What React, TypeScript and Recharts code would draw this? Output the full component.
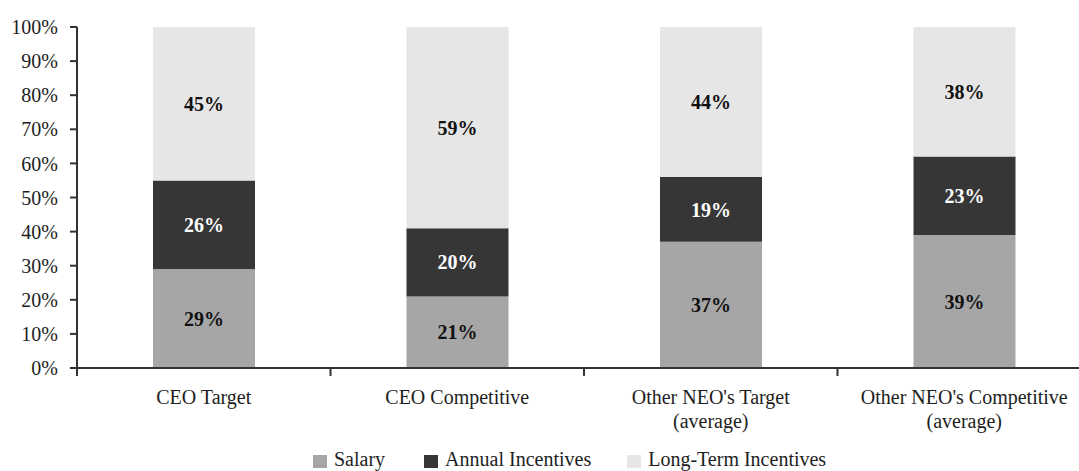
import React from 'react';
import { BarChart, Bar, XAxis, YAxis, Legend, LabelList } from 'recharts';

const categories = ["CEO Target", "CEO Competitive", "Other NEO's Target\n(average)", "Other NEO's Competitive\n(average)"];
const salary = [29, 21, 37, 39];
const annualIncentives = [26, 20, 19, 23];
const longTermIncentives = [45, 59, 44, 38];
const yTicks = [0, 10, 20, 30, 40, 50, 60, 70, 80, 90, 100];
const seriesNames = ['Salary', 'Annual Incentives', 'Long-Term Incentives'];
const seriesColors = ['#a6a6a6', '#363636', '#e6e6e6'];
const labelColors = ['#111111', '#ffffff', '#111111'];

const data = categories.map((c, i) => ({
  name: c,
  salary: salary[i],
  annual: annualIncentives[i],
  lti: longTermIncentives[i],
}));
const keys = ['salary', 'annual', 'lti'];

const FONT = '"Liberation Serif", "Times New Roman", serif';
const AXIS = '#333333';
const TEXT = '#1e1e1e';

const CategoryTick = (props: any) => {
  const { x, y, payload, index, visibleTicksCount, width } = props;
  const bw = Number(width) / visibleTicksCount;
  const lines = String(payload.value).split('\n');
  return (
    <g>
      <line x1={x - bw / 2} x2={x - bw / 2} y1={y} y2={y + 8} stroke={AXIS} strokeWidth={2} />
      {index === visibleTicksCount - 1 && (
        <line x1={x + bw / 2} x2={x + bw / 2} y1={y} y2={y + 8} stroke={AXIS} strokeWidth={2} />
      )}
      <text x={x} y={y} textAnchor="middle" fontFamily={FONT} fontSize={20} fill={TEXT}>
        {lines.map((l, i) => (
          <tspan key={i} x={x} dy={i === 0 ? 36 : 24}>{l}</tspan>
        ))}
      </text>
    </g>
  );
};

const renderLegend = () => (
  <div style={{ display: 'flex', alignItems: 'flex-start', height: 22, paddingTop: 0, paddingLeft: 313, boxSizing: 'border-box', fontFamily: FONT, fontSize: 20, color: TEXT, lineHeight: 1 }}>
    {seriesNames.map((n, i) => (
      <div key={n} style={{ display: 'flex', alignItems: 'flex-start', marginRight: i === 0 ? 39 : 36 }}>
        <span style={{ display: 'inline-block', width: 14, height: 13, marginTop: 6, background: seriesColors[i], marginRight: 7 }} />
        <span>{n}</span>
      </div>
    ))}
  </div>
);

export default function App() {
  return (
    <div style={{ position: 'absolute', left: 0, top: 0, width: 1079, height: 471, overflow: 'hidden', background: '#fff' }}>
      <BarChart width={1100} height={471} data={data} margin={{ top: 27, right: 9, left: 0, bottom: 0 }}>
        <XAxis
          dataKey="name"
          interval={0}
          height={81}
          tickSize={0}
          tickMargin={0}
          tickLine={false}
          axisLine={{ stroke: AXIS, strokeWidth: 2 }}
          tick={<CategoryTick />}
        />
        <YAxis
          width={77}
          domain={[0, 100]}
          ticks={yTicks}
          interval={0}
          tickFormatter={(v: number) => `${v}%`}
          tickSize={7}
          tickMargin={12}
          tickLine={{ stroke: AXIS, strokeWidth: 2 }}
          axisLine={{ stroke: AXIS, strokeWidth: 2 }}
          tick={{ fontFamily: FONT, fontSize: 20, fill: TEXT }}
        />
        <Legend verticalAlign="bottom" content={renderLegend} wrapperStyle={{ left: 0, width: 1100, height: 22, bottom: 0 }} />
        {keys.map((k, i) => (
          <Bar key={k} dataKey={k} name={seriesNames[i]} stackId="a" fill={seriesColors[i]} barSize={102} isAnimationActive={false}>
            <LabelList
              dataKey={k}
              position="center"
              formatter={(v: any) => `${v}%`}
              fill={labelColors[i]}
              fontFamily={FONT}
              fontSize={20}
              fontWeight="bold"
            />
          </Bar>
        ))}
      </BarChart>
    </div>
  );
}
